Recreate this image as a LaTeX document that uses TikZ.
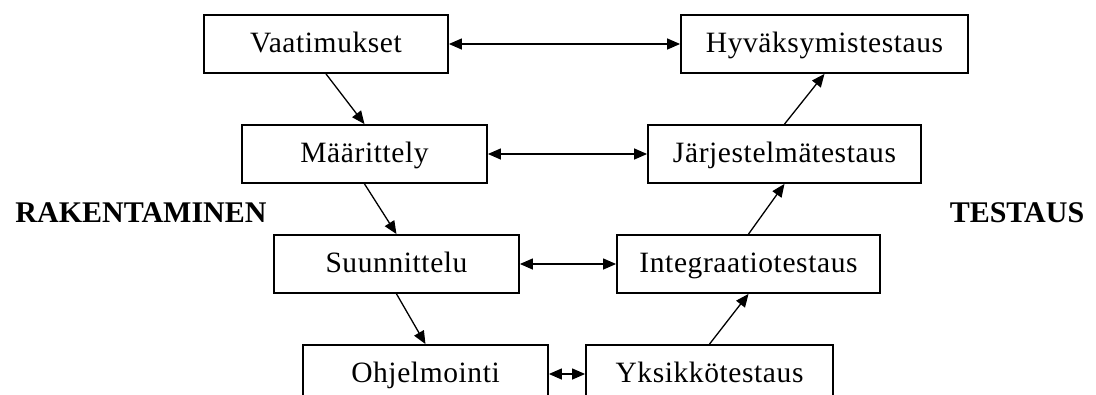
\documentclass[tikz,border=0pt]{standalone}
\usepackage{fontspec}
\setmainfont{Liberation Serif}
\newfontfamily\stagefont[LetterSpace=2]{Liberation Serif}
\usetikzlibrary{arrows.meta}

\tikzset{
  stage/.style={draw, line width=1.8pt, minimum height=58pt, inner sep=0pt,
    text height=21pt, text depth=5pt,
    font=\stagefont\fontsize{29.5}{34}\selectfont},
  phase/.style={inner sep=0pt, font=\fontsize{30}{36}\selectfont\bfseries},
  flow/.style={line width=1.3pt, -{Triangle[length=13pt,width=11pt]}},
  pair/.style={line width=1.3pt,
    {Triangle[length=13pt,width=11pt]}-{Triangle[length=13pt,width=11pt]}}
}

\begin{document}
\begin{tikzpicture}[x=1pt, y=-1pt]
  \useasboundingbox (0,0) rectangle (1096,394);
  \clip (0,0) rectangle (1096,394);

  % building side (left column)
  \node[stage, minimum width=244pt] (req)  at (326,44)   {Vaatimukset};
  \node[stage, minimum width=245pt] (spec) at (364.5,154) {Määrittely};
  \node[stage, minimum width=245pt] (des)  at (396.5,264) {Suunnittelu};
  \node[stage, minimum width=245pt] (prog) at (425.5,374) {Ohjelmointi};

  % testing side (right column)
  \node[stage, minimum width=287pt] (acc)  at (824.5,44)  {Hyväksymistestaus};
  \node[stage, minimum width=273pt] (sys)  at (784.5,154) {Järjestelmätestaus};
  \node[stage, minimum width=263pt] (int)  at (748.5,264) {Integraatiotestaus};
  \node[stage, minimum width=247pt] (unit) at (709.5,374) {Yksikkötestaus};

  % phase labels
  \node[phase] (build) at (141,213)  {RAKENTAMINEN};
  \node[phase] (test)  at (1017,213) {TESTAUS};

  % descending chain
  \draw[flow] (req.south)  -- (spec.north);
  \draw[flow] (spec.south) -- (des.north);
  \draw[flow] (des.south)  -- (prog.north);

  % ascending chain
  \draw[flow] (unit.north) -- (int.south);
  \draw[flow] (int.north)  -- (sys.south);
  \draw[flow] (sys.north)  -- (acc.south);

  % level correspondences
  \draw[pair] (req.east)  -- (acc.west);
  \draw[pair] (spec.east) -- (sys.west);
  \draw[pair] (des.east)  -- (int.west);
  \draw[pair] (prog.east) -- (unit.west);
\end{tikzpicture}
\end{document}
